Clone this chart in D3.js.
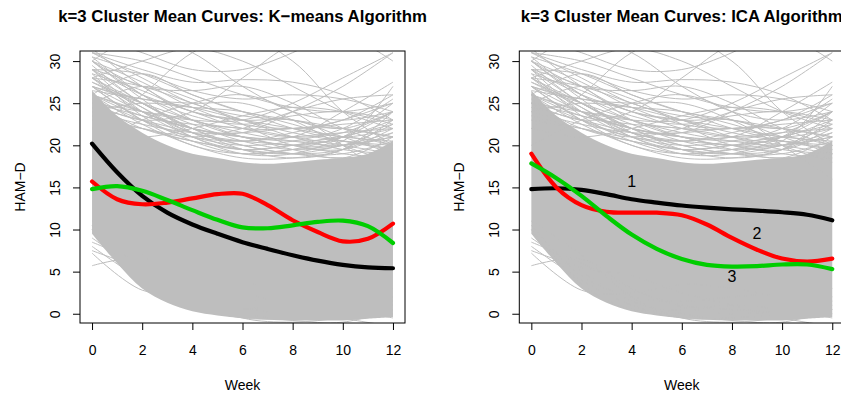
<!DOCTYPE html>
<html>
<head>
<meta charset="utf-8">
<script src="https://cdn.jsdelivr.net/npm/d3@7"></script>
<style>
  body { margin: 0; background: #fff; }
  svg { display: block; font-family: "Liberation Sans", Arial, sans-serif; }
</style>
</head>
<body>
<svg id="chart" width="841" height="394"></svg>
<script>
// weeks and tick labels
var weeks = [0,1,2,3,4,5,6,7,8,9,10,11,12];
var xTicks = [0,2,4,6,8,10,12];
var yTicks = [0,5,10,15,20,25,30];
var sparseWeeks = [0,2,4,6,8,10,12];

// K-means cluster means (weekly)
var kmBlack = [20.2,16.8,14.0,12.0,10.6,9.5,8.5,7.7,6.95,6.3,5.8,5.5,5.4];
var kmRed   = [15.7,13.6,13.0,13.2,13.7,14.2,14.25,12.9,11.1,9.7,8.6,8.9,10.7];
var kmGreen = [14.8,15.15,14.6,13.5,12.3,11.15,10.25,10.15,10.5,10.9,11.05,10.4,8.4];

// ICA cluster means (weekly)
var icaBlack = [14.8,14.9,14.7,14.2,13.6,13.2,12.85,12.6,12.4,12.25,12.05,11.75,11.1];
var icaRed   = [19.0,15.0,12.9,12.1,12.0,12.0,11.7,10.6,9.0,7.6,6.55,6.2,6.55];
var icaGreen = [17.85,16.1,14.0,11.6,9.4,7.7,6.5,5.8,5.6,5.65,5.85,5.85,5.3];

// cluster labels on the ICA panel: [label, week, value]
var icaLabels = [["1",4,15.7],["2",9,9.6],["3",8,4.4]];

// dense band of individual subject curves (weekly envelope)
var bandHigh = [26.5,23.5,21.5,20,19,18.5,18,17.8,18,18.3,18.5,19,20.5];
var bandLow  = [9.5,6,3,1.3,0.3,-0.2,-0.5,-0.7,-0.8,-0.8,-0.8,-0.6,-0.4];

// individual curves outside the dense band (values at weeks 0,2,...,12)
var upperCurves = [
  [31,29,27.5,27.8,27.5,26,23],
  [29,28.5,26.5,25.5,26,25.5,24],
  [30,27,26.5,27,25,22,20],
  [26,28.5,26,24,23,22,24],
  [28,25,22,21.5,24,27,31],
  [22,26,31,33,30,24,20],
  [25,23,24,28,32,33,30],
  [27,24,22,21,21,24,27.5],
  [30.5,26,23,22,22,23,26],
  [24,25,24.5,24,22.5,21,22],
  [31.5,27,24,23,23,21,19],
  [20,23,25,26,24,20,16],
  [28,30,31.5,30,27,24,22],
  [23,22,21,22,24,25.5,26],
  [29,24,21,19,19,21,25],
  [25,27,25.5,22.5,20,19.5,21.5],
  [31,30,28,26,24.5,24,25],
  [27,25.5,25,25,23,20,18],
  [22,21,22,23.5,24.5,24,22.5],
  [30,33,31,27,24,23,24],
  [33,31,29,29,31,34,36],
  [26,24,23,23,25,28,31]
];
var edgeCurves = [
  [28,24,22,21,20.5,21,23],
  [27,25,23,21.5,20.5,20,21],
  [29,26,24,22,21,21.5,24],
  [26,23.5,22.5,22,21,20,19],
  [30,27.5,24.5,22.5,22,22.5,23],
  [25,24,23,21,20,21,24],
  [28.5,26.5,24,23,22,21,20.5],
  [24,22.5,21.5,21.5,22,22,21],
  [27.5,24.5,21.5,20.5,21.5,23,25],
  [29.5,25,22.5,20.5,19.5,20,22.5],
  [26.5,25.5,24.5,23,21.5,20.5,20],
  [31,28,25,23.5,23,22,21],
  [30,26,23.5,22.5,23.5,24,23],
  [28,27,25,23,21,19.5,19],
  [25.5,23,21,20,20.5,22,25.5],
  [27,23,21,20.5,21,21.5,22],
  [29,27,23,21,20,20.5,27],
  [30.5,28.5,26,24,22,20.5,19.5],
  [27,23,20,19,19.5,20,21],
  [25,22,20.5,19.5,19,19.5,22],
  [28,24.5,21,19.5,20,21,20],
  [26,22.5,20,18.5,18.5,19.5,23],
  [29,25,22,20,19,18.5,19],
  [24.5,23,21.5,20,19,19,20.5],
  [27.5,25,22,19.5,18.5,19.5,24],
  [26,24,21.5,20.5,20,19,18.5],
  [28.5,23.5,20.5,19,19.5,21,22.5],
  [25,23.5,22,21,19.5,18.5,21],
  [30,25.5,21.5,19.5,19,20,21.5],
  [23.5,22,20.5,19.5,20,20.5,19.5]
];
var lowerCurves = [
  [5.7,6.5,3,1,0.5,0.3,0.5],
  [7.2,2.8,2.5,3.5,3,2,1.5],
  [8,4,1,-0.5,-0.5,0,1],
  [9,5,1.5,0,-0.8,-1,0.5],
  [10,3.5,0.5,0.5,1,0.5,-0.5],
  [8.5,6,3,0.8,0,0.5,2],
  [11,7,2,-0.5,-1,-0.5,0],
  [7.5,5.5,4.5,2.5,1,-0.5,-1.5],
  [10.5,4.5,2,1.5,2,2.5,3]
];

var svg = d3.select("#chart");
var plotTop = 51, plotBottom = 323;
var gray = "#bebebe";

var panels = [
  {x0: 80, title: "k=3 Cluster Mean Curves: K\u2212means Algorithm",
   means: [kmBlack, kmRed, kmGreen], labels: []},
  {x0: 519.3, title: "k=3 Cluster Mean Curves: ICA Algorithm",
   means: [icaBlack, icaRed, icaGreen], labels: icaLabels}
];
var meanColors = ["#000000", "#ff0000", "#00cd00"];

panels.forEach(function(p, i) {
  var x1 = p.x0 + 325;
  var x = d3.scaleLinear().domain([-0.48, 12.48]).range([p.x0, x1]);
  var y = d3.scaleLinear().domain([-1.1, 31.2]).range([plotBottom, plotTop]);

  var clipId = "clip" + i;
  svg.append("clipPath").attr("id", clipId)
    .append("rect").attr("x", p.x0).attr("y", plotTop)
    .attr("width", x1 - p.x0).attr("height", plotBottom - plotTop);

  var plot = svg.append("g").attr("clip-path", "url(#" + clipId + ")");

  // dense band
  var area = d3.area()
    .x(function(d, j) { return x(weeks[j]); })
    .y0(function(d, j) { return y(bandLow[j]); })
    .y1(function(d) { return y(d); })
    .curve(d3.curveCatmullRom);
  plot.append("path").datum(bandHigh)
    .attr("d", area).attr("fill", gray);

  var sparseLine = d3.line()
    .x(function(d, j) { return x(sparseWeeks[j]); })
    .y(function(d) { return y(d); })
    .curve(d3.curveCatmullRom);
  plot.selectAll(".sub").data(upperCurves.concat(edgeCurves, lowerCurves))
    .enter().append("path")
    .attr("class", "sub")
    .attr("d", sparseLine)
    .attr("fill", "none").attr("stroke", gray).attr("stroke-width", 1);

  var meanLine = d3.line()
    .x(function(d, j) { return x(weeks[j]); })
    .y(function(d) { return y(d); })
    .curve(d3.curveCatmullRom.alpha(0.5));
  plot.selectAll(".mean").data(p.means)
    .enter().append("path")
    .attr("class", "mean")
    .attr("d", meanLine)
    .attr("fill", "none")
    .attr("stroke", function(d, j) { return meanColors[j]; })
    .attr("stroke-width", 4.2)
    .attr("stroke-linecap", "round");

  plot.selectAll(".lab").data(p.labels)
    .enter().append("text")
    .attr("x", function(d) { return x(d[1]); })
    .attr("y", function(d) { return y(d[2]); })
    .attr("dy", "0.36em")
    .attr("text-anchor", "middle")
    .attr("font-size", 16)
    .text(function(d) { return d[0]; });

  // box
  svg.append("rect")
    .attr("x", p.x0).attr("y", plotTop)
    .attr("width", x1 - p.x0).attr("height", plotBottom - plotTop)
    .attr("fill", "none").attr("stroke", "#000").attr("stroke-width", 1);

  // axes
  var gx = svg.append("g")
    .attr("transform", "translate(0," + plotBottom + ")")
    .call(d3.axisBottom(x).tickValues(xTicks).tickSize(7).tickPadding(15));
  gx.select(".domain").remove();
  gx.selectAll("text").attr("font-size", 14).attr("fill", "#000")
    .attr("font-family", "Liberation Sans, Arial, sans-serif");

  var gy = svg.append("g")
    .attr("transform", "translate(" + p.x0 + ",0)")
    .call(d3.axisLeft(y).tickValues(yTicks).tickSize(7));
  gy.select(".domain").remove();
  gy.selectAll("text")
    .attr("transform", "rotate(-90)")
    .attr("x", 0).attr("y", -25).attr("dy", "0.35em")
    .attr("text-anchor", "middle")
    .attr("font-size", 14).attr("fill", "#000")
    .attr("font-family", "Liberation Sans, Arial, sans-serif");

  // titles
  svg.append("text")
    .attr("x", (p.x0 + x1) / 2).attr("y", 22)
    .attr("text-anchor", "middle")
    .attr("font-weight", "bold").attr("font-size", 16.8)
    .text(p.title);
  svg.append("text")
    .attr("x", (p.x0 + x1) / 2).attr("y", 390)
    .attr("text-anchor", "middle").attr("font-size", 14)
    .text("Week");
  svg.append("text")
    .attr("transform", "translate(" + (p.x0 - 55) + "," + ((plotTop + plotBottom) / 2) + ") rotate(-90)")
    .attr("text-anchor", "middle").attr("font-size", 14)
    .text("HAM\u2212D");
});
</script>
</body>
</html>
